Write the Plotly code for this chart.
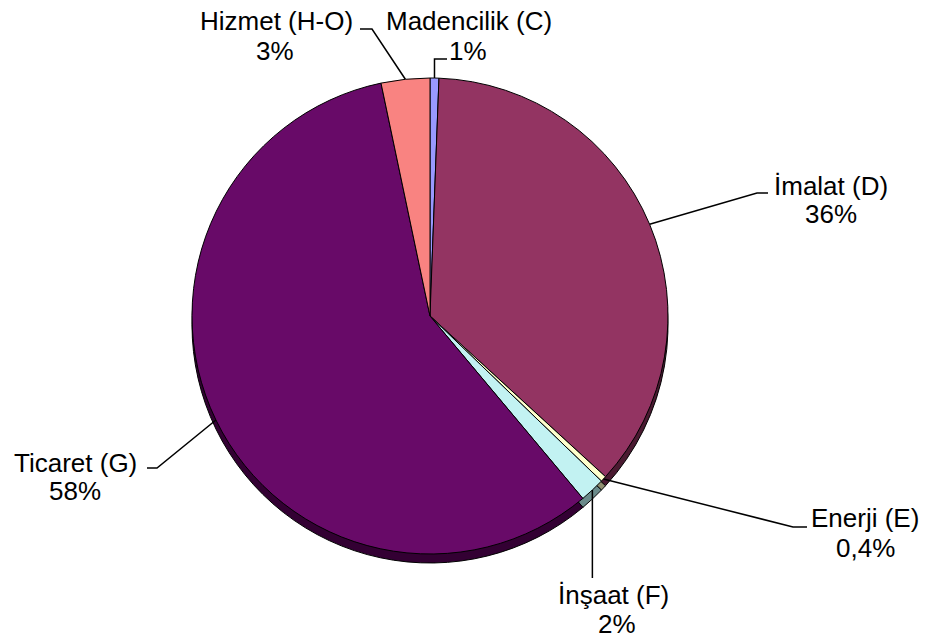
import math
import plotly.graph_objects as go

# ---- data ----
sectors = ["Madencilik (C)", "İmalat (D)", "Enerji (E)", "İnşaat (F)", "Ticaret (G)", "Hizmet (H-O)"]
shares = [0.6, 36.2, 0.4, 1.7, 57.8, 3.3]
pct_labels = ["1%", "36%", "0,4%", "2%", "58%", "3%"]

# ---- style ----
W, H = 931, 642
CX, CY, R = 430, 316, 238
SHADOW = 9
face_colors = ["#9999FF", "#933462", "#FFFFCC", "#C2F2F2", "#680A68", "#F98381"]
shadow_colors = ["#55558F", "#4A1A31", "#8F8F70", "#6A8A8A", "#330033", "#8A4545"]
FONT = "Liberation Sans, Arial, sans-serif"
FS = 26

# label layout in pixels: x1/x2 = centres of the two lines, y1/y2 = their vertical centres
label_pos = {
    "Madencilik (C)": dict(x1=469, x2=468, y1=21, y2=51, kind="up", end=(447, 59)),
    "İmalat (D)": dict(x1=831, x2=831, y1=186, y2=214, kind="elbow", elbow=(757, 193), end=(768, 193)),
    "Enerji (E)": dict(x1=865, x2=865, y1=518, y2=548, kind="elbow", elbow=(793, 527), end=(807, 527)),
    "İnşaat (F)": dict(x1=613, x2=617, y1=595, y2=624, kind="down", end=578),
    "Ticaret (G)": dict(x1=75, x2=75, y1=463, y2=491, kind="elbow", elbow=(157, 468), end=(147, 468)),
    "Hizmet (H-O)": dict(x1=276, x2=275, y1=21, y2=51, kind="elbow", elbow=(372, 29), end=(360, 29)),
}

def px(x):
    return x / W

def py(y):
    return 1 - y / H

def domain(cy):
    return dict(x=[px(CX - R), px(CX + R)], y=[py(cy + R), py(cy - R)])

fig = go.Figure()
fig.add_trace(go.Pie(
    labels=sectors, values=shares, sort=False, direction="clockwise", rotation=0,
    marker=dict(colors=shadow_colors, line=dict(color="#000000", width=1)),
    textinfo="none", hoverinfo="skip", showlegend=False, domain=domain(CY + SHADOW),
))
fig.add_trace(go.Pie(
    labels=sectors, values=shares, sort=False, direction="clockwise", rotation=0,
    marker=dict(colors=face_colors, line=dict(color="#000000", width=1)),
    textinfo="none", hoverinfo="label+percent", showlegend=False, domain=domain(CY),
))

total = sum(shares)
cum = 0.0
shapes = []
annotations = []
for name, val, pct in zip(sectors, shares, pct_labels):
    mid = (cum + val / 2) / total * 2 * math.pi
    cum += val
    ex = CX + R * math.sin(mid)
    ey = CY - R * math.cos(mid)
    lp = label_pos[name]
    pts = [(ex, ey)]
    if lp["kind"] == "up":
        pts += [(ex, lp["end"][1]), lp["end"]]
    elif lp["kind"] == "down":
        pts += [(ex, lp["end"])]
    else:
        pts += [lp["elbow"], lp["end"]]
    path = "M " + " L ".join(f"{px(a):.5f},{py(b):.5f}" for a, b in pts)
    shapes.append(dict(type="path", xref="paper", yref="paper", path=path,
                       line=dict(color="#000000", width=1.5)))
    for txt, xx, yy in ((name, lp["x1"], lp["y1"]), (pct, lp["x2"], lp["y2"])):
        annotations.append(dict(text=txt, x=px(xx), y=py(yy), xref="paper", yref="paper",
                                xanchor="center", yanchor="middle", showarrow=False,
                                font=dict(family=FONT, size=FS, color="#000000")))

fig.update_layout(
    width=W, height=H, margin=dict(l=0, r=0, t=0, b=0),
    paper_bgcolor="#FFFFFF", plot_bgcolor="#FFFFFF",
    shapes=shapes, annotations=annotations, showlegend=False,
)
fig.write_html("out.html", config={"displayModeBar": False},
               post_script="document.body.style.margin='0';")
